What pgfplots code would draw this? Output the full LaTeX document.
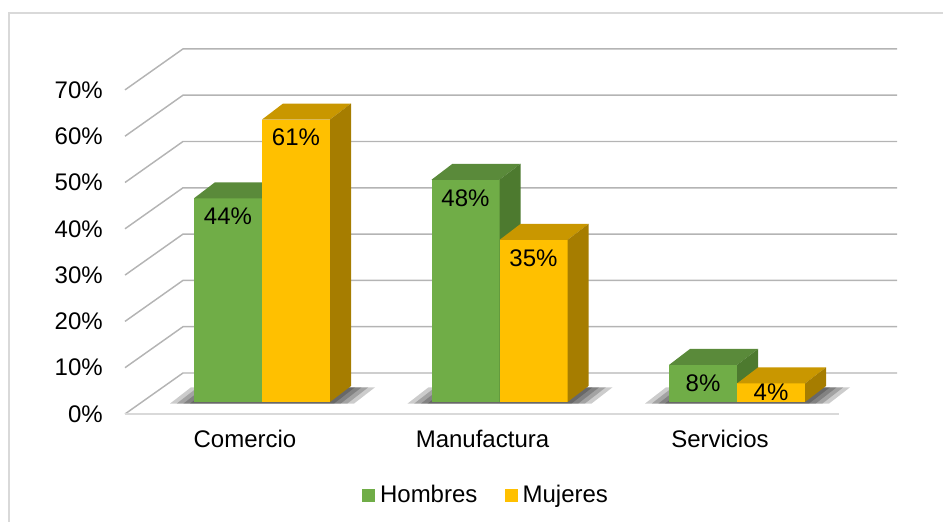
\documentclass[border=0pt]{standalone}
\usepackage{pgfplots}
\pgfplotsset{compat=1.18}
\usepackage{pgfplotstable}
\usepackage{fontspec}
\setmainfont{Liberation Sans}

\definecolor{gfront}{HTML}{70AD47}
\definecolor{gtop}{HTML}{5A8A3A}
\definecolor{gside}{HTML}{4D7A2F}
\definecolor{yfront}{HTML}{FFC000}
\definecolor{ytop}{HTML}{C99700}
\definecolor{yside}{HTML}{A67D00}
\definecolor{gridgray}{HTML}{B4B4B4}
\definecolor{framegray}{HTML}{D9D9D9}

% one pixel of the reference is 0.75pt here
% bars are 68px wide, the depth step of a bar is (21px,16px)
\pgfplotstableread{
x hombres mujeres
0 44 61
1 48 35
2 8 4
}\datos

% 3d box: front face, top face, right side; \barh is the bar value
\newcommand{\boxthreed}[3]{%
  \pgfmathsetmacro\bh{\barh*3.4725}%
  \pgfmathsetmacro\bs{12-\bh}%
  \pgfpathrectanglecorners{\pgfpoint{-25.5pt}{0pt}}{\pgfpoint{25.5pt}{-\bh pt}}%
  \pgfsetfillcolor{#1}\pgfusepath{fill}%
  \pgfpathmoveto{\pgfpoint{-25.5pt}{0pt}}%
  \pgfpathlineto{\pgfpoint{25.5pt}{0pt}}%
  \pgfpathlineto{\pgfpoint{41.25pt}{12pt}}%
  \pgfpathlineto{\pgfpoint{-9.75pt}{12pt}}%
  \pgfpathclose
  \pgfsetfillcolor{#2}\pgfusepath{fill}%
  \pgfpathmoveto{\pgfpoint{25.5pt}{0pt}}%
  \pgfpathlineto{\pgfpoint{41.25pt}{12pt}}%
  \pgfpathlineto{\pgfpoint{41.25pt}{\bs pt}}%
  \pgfpathlineto{\pgfpoint{25.5pt}{-\bh pt}}%
  \pgfpathclose
  \pgfsetfillcolor{#3}\pgfusepath{fill}%
}
\pgfdeclareplotmark{boxg}{\boxthreed{gfront}{gtop}{gside}}
\pgfdeclareplotmark{boxy}{\boxthreed{yfront}{ytop}{yside}}

% soft shadow under a group of two bars: footprint widened by #1
\newcommand{\shadowlayer}[1]{%
  \pgfpathmoveto{\pgfpoint{-51pt-#1pt}{-1.2pt}}%
  \pgfpathlineto{\pgfpoint{51pt+#1pt}{-1.2pt}}%
  \pgfpathlineto{\pgfpoint{66.75pt+#1pt}{11pt}}%
  \pgfpathlineto{\pgfpoint{-35.25pt-#1pt}{11pt}}%
  \pgfpathclose\pgfusepath{fill}%
}
\pgfdeclareplotmark{floorshadow}{%
  \pgfscope
  \pgfsetfillcolor{black}\pgfsetfillopacity{0.2}%
  \shadowlayer{3}%
  \shadowlayer{8}%
  \shadowlayer{13}%
  \shadowlayer{18}%
  \endpgfscope
}

\begin{document}
\begin{tikzpicture}[font=\fontsize{18}{22}\selectfont]
\begin{axis}[
    x=178.125pt, y=3.4725pt,
    xmin=-0.9, xmax=2.8, ymin=-5, ymax=80,
    clip=false,
    axis line style={draw=none},
    major tick length=0pt,
    ytick=\empty,
    xtick={0,1,2},
    xticklabels={Comercio,Manufactura,Servicios},
    xticklabel style={anchor=base, xshift=-12.75pt, yshift=-17.14pt},
    /pgf/number format/assume math mode=true,
    legend columns=2,
    legend style={at={(axis cs:0.945,-20.09)}, anchor=center,
        draw=none, fill=none,
        /tikz/every odd column/.append style={column sep=2pt},
        /tikz/every even column/.append style={column sep=18.5pt}},
]
% frame of the chart area
\draw[framegray, line width=1.5pt] (axis cs:-1.06526,-30) -- (axis cs:-1.06526,84.017) -- (axis cs:2.95,84.017);

% walls: side wall diagonals and back wall lines, with the tick labels
\pgfplotsinvokeforeach{0,10,...,70}{
    \draw[gridgray, line width=1.1pt] ([yshift=-9pt]axis cs:-0.57684,#1)
        -- ([yshift=21.75pt]axis cs:-0.33263,#1) -- ([yshift=21.75pt]axis cs:2.67368,#1);
    \node[anchor=east, inner sep=0pt] at ([yshift=-9pt]axis cs:-0.66947,#1) {#1\%};
}
% front edge of the floor
\draw[framegray, line width=1.1pt] ([yshift=-9pt]axis cs:-0.57684,0) -- ([yshift=-9pt]axis cs:2.42947,0);

\addplot[only marks, mark=floorshadow, forget plot] table[x=x, y expr=0] {\datos};

\addplot[scatter, only marks, mark=boxg, forget plot, point meta=rawy,
    visualization depends on={rawy \as \barh},
    nodes near coords={\pgfmathprintnumber{\pgfplotspointmeta}\%},
    every node near coord/.append style={anchor=center, text=black,
        yshift={-min(13.5,1.736*\barh)*1pt}}]
    table[x expr=\thisrow{x}-0.14316, y=hombres] {\datos};

\addplot[scatter, only marks, mark=boxy, forget plot, point meta=rawy,
    visualization depends on={rawy \as \barh},
    nodes near coords={\pgfmathprintnumber{\pgfplotspointmeta}\%},
    every node near coord/.append style={anchor=center, text=black,
        yshift={-min(13.5,1.736*\barh)*1pt}}]
    table[x expr=\thisrow{x}+0.14316, y=mujeres] {\datos};

\addlegendimage{legend image code/.code={\fill[gfront] (0pt,-4.5pt) rectangle (9pt,4.5pt);}}
\addlegendentry{Hombres}
\addlegendimage{legend image code/.code={\fill[yfront] (0pt,-4.5pt) rectangle (9pt,4.5pt);}}
\addlegendentry{Mujeres}

\coordinate (bbsw) at (axis cs:-1.10316,-25.918);
\coordinate (bbne) at (axis cs:2.86737,86.825);
\end{axis}
\pgfresetboundingbox
\useasboundingbox (bbsw) rectangle (bbne);
\end{tikzpicture}
\end{document}
